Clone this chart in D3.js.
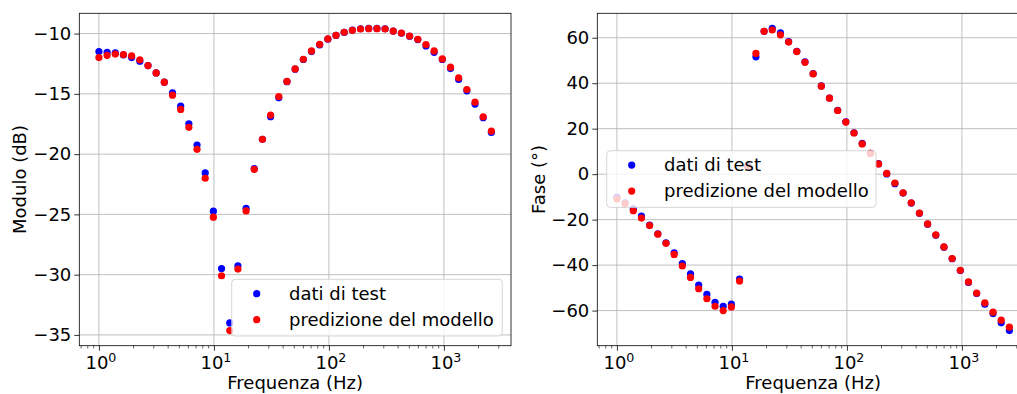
<!DOCTYPE html>
<html>
<head>
<meta charset="utf-8">
<script src="https://cdn.jsdelivr.net/npm/d3@7"></script>
<style>
  html, body { margin: 0; padding: 0; background: #fff; }
  svg { display: block; font-family: "DejaVu Sans", sans-serif; }
  text { fill: #000; }
</style>
</head>
<body>
<svg id="chart" width="1017" height="394"></svg>
<script>
// Frequency sweep (Hz), shared by both panels
const freqHz = [1.000, 1.178, 1.388, 1.634, 1.925, 2.268, 2.671, 3.146, 3.706, 4.365,
  5.140, 6.055, 7.132, 8.401, 9.894, 11.65, 13.73, 16.17, 19.05, 22.43,
  26.42, 31.12, 36.66, 43.18, 50.86, 59.91, 70.56, 83.11, 97.90, 115.3,
  135.8, 160.0, 188.4, 222.0, 261.5, 308.0, 362.7, 427.3, 503.3, 592.8,
  698.2, 822.4, 968.7, 1141, 1344, 1583, 1865, 2196, 2587];

// Magnitude (dB)
const moduloTest = [-11.49, -11.55, -11.60, -11.77, -11.99, -12.29, -12.65, -13.26, -14.03, -14.92,
  -16.02, -17.48, -19.25, -21.56, -24.73, -29.49, -34.00, -29.26, -24.49, -21.20,
  -18.77, -16.90, -15.33, -13.99, -12.95, -12.15, -11.49, -10.94, -10.46, -10.15,
  -9.90, -9.70, -9.60, -9.57, -9.57, -9.60, -9.79, -9.97, -10.22, -10.50,
  -11.03, -11.55, -12.15, -12.90, -13.81, -14.75, -15.85, -16.98, -18.20];
const moduloModel = [-11.99, -11.80, -11.70, -11.74, -11.85, -12.18, -12.65, -13.26, -14.03, -15.11,
  -16.29, -17.78, -19.60, -22.00, -25.23, -30.09, -34.64, -29.54, -24.71, -21.26,
  -18.77, -16.76, -15.22, -13.97, -12.93, -12.13, -11.44, -10.89, -10.44, -10.14,
  -9.89, -9.73, -9.62, -9.59, -9.59, -9.62, -9.79, -9.95, -10.20, -10.47,
  -10.91, -11.44, -12.10, -12.79, -13.67, -14.64, -15.69, -16.90, -18.09];

// Phase (degrees)
const faseTest = [-10.2, -12.6, -15.3, -18.4, -22.4, -26.2, -30.2, -34.6, -39.3, -43.9,
  -48.8, -52.9, -56.4, -58.1, -57.2, -46.1, 3.8, 51.6, 62.8, 64.1,
  62.2, 58.3, 54.0, 49.4, 44.2, 38.8, 33.5, 28.1, 23.0, 18.2,
  13.5, 9.2, 4.6, 0.1, -4.2, -8.3, -12.7, -17.2, -22.0, -26.9,
  -32.1, -37.2, -42.4, -47.6, -52.5, -57.2, -61.3, -65.4, -68.8];
const faseModel = [-10.9, -13.0, -16.1, -19.3, -22.6, -26.4, -30.4, -35.3, -40.4, -45.4,
  -50.4, -54.8, -58.1, -60.0, -58.4, -47.0, 3.3, 53.1, 62.8, 63.4,
  61.3, 58.1, 53.9, 49.2, 44.1, 38.7, 33.4, 28.0, 22.9, 18.1,
  13.3, 9.1, 4.5, 0.3, -3.9, -8.2, -12.6, -17.1, -21.9, -26.7,
  -32.0, -37.1, -42.3, -47.4, -52.3, -56.6, -60.7, -64.2, -67.3];

// Tick values and labels
const xTickDecades = [0, 1, 2, 3];
const moduloTicks = [-35, -30, -25, -20, -15, -10];
const faseTicks = [-60, -40, -20, 0, 20, 40, 60];
const seriesNames = ["dati di test", "predizione del modello"];
const seriesColors = ["#0000ff", "#ff0000"];
const xLabel = "Frequenza (Hz)";

const FONT = 18;
const svg = d3.select("#chart");

// padded extent, 5% on each side
function padded(lo, hi) {
  const m = (hi - lo) * 0.05;
  return [lo - m, hi + m];
}

function panel(opts) {
  const { left, top, width, height, yTest, yModel, yTicks, yLabel, yLabelX, legend } = opts;
  const g = svg.append("g");

  const lx = d3.extent(freqHz).map(Math.log10);
  const [lx0, lx1] = padded(lx[0], lx[1]);
  const x = d3.scaleLog().domain([10 ** lx0, 10 ** lx1]).range([left, left + width]);
  const yAll = yTest.concat(yModel);
  const y = d3.scaleLinear().domain(padded(d3.min(yAll), d3.max(yAll))).range([top + height, top]);

  const clipId = "clip" + left;
  svg.append("clipPath").attr("id", clipId)
    .append("rect").attr("x", left).attr("y", top).attr("width", width).attr("height", height);

  // grid
  const grid = g.append("g").attr("stroke", "#b0b0b0").attr("stroke-width", 0.8);
  grid.selectAll("line.gx").data(xTickDecades.map(d => 10 ** d)).join("line")
    .attr("x1", d => x(d)).attr("x2", d => x(d)).attr("y1", top).attr("y2", top + height);
  grid.selectAll("line.gy").data(yTicks).join("line")
    .attr("x1", left).attr("x2", left + width).attr("y1", d => y(d)).attr("y2", d => y(d));

  // points: test first, model on top
  const pts = g.append("g").attr("clip-path", `url(#${clipId})`);
  [yTest, yModel].forEach((vals, k) => {
    pts.append("g").selectAll("circle").data(vals).join("circle")
      .attr("cx", (d, i) => x(freqHz[i]))
      .attr("cy", d => y(d))
      .attr("r", 3.6)
      .attr("fill", seriesColors[k]);
  });

  // x axis: major ticks with 10^n labels, minor ticks
  const minor = [];
  for (let e = -1; e <= 3; e++) for (let m = 2; m <= 9; m++) {
    const v = m * 10 ** e;
    if (v >= x.domain()[0] && v <= x.domain()[1]) minor.push(v);
  }
  const xAxis = d3.axisBottom(x).tickValues(xTickDecades.map(d => 10 ** d))
    .tickSize(5).tickSizeOuter(0).tickFormat("");
  const xa = g.append("g").attr("transform", `translate(0,${top + height})`).call(xAxis);
  xa.select(".domain").remove();
  xa.selectAll(".tick line").attr("stroke", "#000").attr("stroke-width", 0.8);
  g.append("g").selectAll("line").data(minor).join("line")
    .attr("x1", d => x(d)).attr("x2", d => x(d))
    .attr("y1", top + height).attr("y2", top + height + 2.8)
    .attr("stroke", "#000").attr("stroke-width", 0.6);

  const xt = g.append("g").selectAll("text").data(xTickDecades).join("text")
    .attr("x", d => x(10 ** d) + 2)
    .attr("y", top + height + 23.5)
    .attr("text-anchor", "middle")
    .attr("font-size", FONT);
  xt.append("tspan").text("10");
  xt.append("tspan").attr("dy", -7).attr("font-size", FONT * 0.7).text(d => d);

  // y axis
  const yAxis = d3.axisLeft(y).tickValues(yTicks).tickSize(5).tickPadding(3).tickSizeOuter(0)
    .tickFormat(d => (d < 0 ? "\u2212" : "") + Math.abs(d));
  const ya = g.append("g").attr("transform", `translate(${left},0)`).call(yAxis);
  ya.select(".domain").remove();
  ya.selectAll(".tick line").attr("stroke", "#000").attr("stroke-width", 0.8);
  ya.selectAll(".tick text").attr("font-size", FONT).attr("font-family", "DejaVu Sans").attr("fill", "#000");

  // frame
  g.append("rect").attr("x", left).attr("y", top).attr("width", width).attr("height", height)
    .attr("fill", "none").attr("stroke", "#000").attr("stroke-width", 0.8);

  // axis labels
  g.append("text").attr("x", left + width / 2).attr("y", 389)
    .attr("text-anchor", "middle").attr("font-size", FONT).text(xLabel);
  g.append("text").attr("transform", `translate(${yLabelX},${top + height / 2}) rotate(-90)`)
    .attr("text-anchor", "middle").attr("font-size", FONT).text(yLabel);

  // legend
  const lg = g.append("g").attr("transform", `translate(${legend.x},${legend.y})`);
  lg.append("rect").attr("x", 0).attr("y", 0).attr("width", legend.w).attr("height", 56.7)
    .attr("rx", 3.6).attr("fill", "#fff").attr("fill-opacity", 0.8)
    .attr("stroke", "#cccccc").attr("stroke-opacity", 0.8).attr("stroke-width", 1);
  seriesNames.forEach((name, k) => {
    const cy = 14.4 + k * 26;
    lg.append("circle").attr("cx", 25).attr("cy", cy).attr("r", 3.6).attr("fill", seriesColors[k]);
    lg.append("text").attr("x", 57.3).attr("y", cy + 6.4).attr("font-size", FONT).text(name);
  });
}

panel({
  left: 79.3, top: 13.3, width: 431.7, height: 332.4,
  yTest: moduloTest, yModel: moduloModel, yTicks: moduloTicks,
  yLabel: "Modulo (dB)", yLabelX: 26.4,
  legend: { x: 231.7, y: 279.3, w: 270.6 }
});
panel({
  left: 597.3, top: 13.3, width: 431.7, height: 332.4,
  yTest: faseTest, yModel: faseModel, yTicks: faseTicks,
  yLabel: "Fase (°)", yLabelX: 544.5,
  legend: { x: 606.7, y: 150.7, w: 269.3 }
});
</script>
</body>
</html>
